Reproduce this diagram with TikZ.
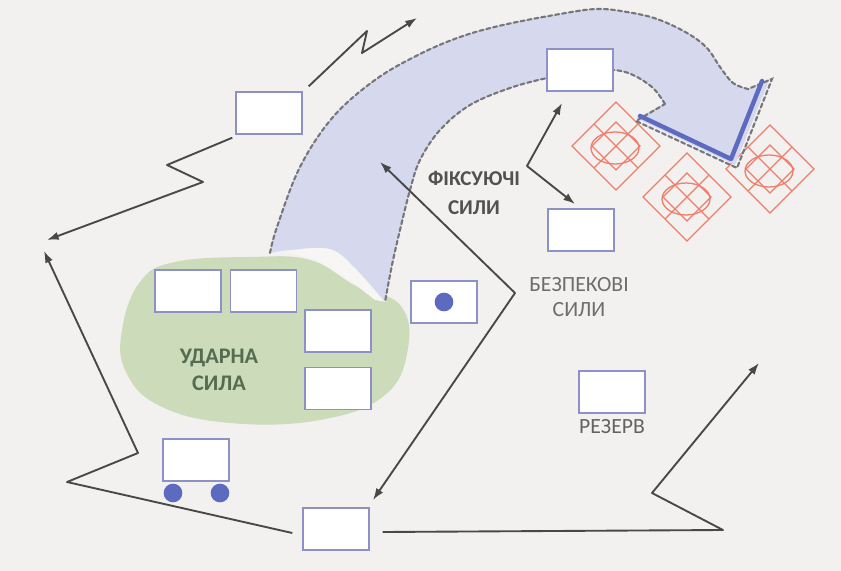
\documentclass[tikz,border=0pt]{standalone}
\usepackage{fontspec}
\setmainfont{Carlito}
\usepackage{xcolor}
\usepackage{tikz}
\usetikzlibrary{arrows.meta, positioning}
\definecolor{Paper}{RGB}{243, 241, 239}
\definecolor{Frame}{RGB}{140, 146, 200}
\definecolor{Sage}{RGB}{204, 219, 186}
\definecolor{Lilac}{RGB}{214, 217, 237}
\definecolor{Dash}{RGB}{118, 118, 124}
\definecolor{Royal}{RGB}{92, 106, 192}
\definecolor{Foe}{RGB}{238, 126, 106}
\definecolor{Ink}{RGB}{72, 72, 72}
\definecolor{Moss}{RGB}{84, 108, 80}

\begin{document}
\begin{tikzpicture}[
    x=0.03cm, y=-0.03cm,
    unit/.style={draw=Frame, fill=white, line width=1.2pt, inner sep=0pt,
                 minimum width=1.98cm, minimum height=1.26cm},
    move/.style={-{Latex[length=10pt, width=7pt]}, line width=1.6pt, Ink,
                 line join=round},
    edge/.style={Dash, line width=1.8pt, dash pattern=on 3.5pt off 2.5pt,
                 line cap=round},
    wheel/.style={circle, fill=Royal, inner sep=0pt, minimum size=0.56cm},
    foe/.style={Foe, line width=1.1pt},
    lbl/.style={font=\fontsize{18.5}{21}\selectfont, align=center, Ink}
    ]
    % paper
    \fill[Paper] (0,0) rectangle (841,571);

    % strike force area
    \fill[Sage] plot[smooth cycle, tension=0.7] coordinates {
      (122,330) (140,282) (175,262) (250,257) (310,260) (356,286)
      (400,305) (408,348) (385,395) (320,420) (230,423) (160,406) (126,372)};
    \fill[white!35!Paper] plot[smooth, tension=0.6] coordinates {
      (285,252) (330,247) (362,272) (386,302)}
      -- (375,300) -- (352,282) -- (315,259) -- cycle;

    % enemy positions
    \foreach \cx/\cy in {616/146, 687/197, 770/169} {
      \draw[foe] (\cx-44,\cy) -- (\cx,\cy-44) -- (\cx+44,\cy) -- (\cx,\cy+44) -- cycle;
      \draw[foe] (\cx-24,\cy) -- (\cx,\cy-24) -- (\cx+24,\cy) -- (\cx,\cy+24) -- cycle;
      \draw[foe] (\cx-22,\cy-22) -- (\cx+22,\cy+22);
      \draw[foe] (\cx+22,\cy-22) -- (\cx-22,\cy+22);
      \draw[foe] (\cx-1,\cy+2) ellipse (24 and 16);
    }

    % main attack arrow
    \fill[Lilac]
      plot[smooth, tension=0.6] coordinates {
        (270,253) (277,227) (300,167) (333,117) (375,80) (418,55) (460,37)
        (503,25) (560,14) (597,9) (627,12) (657,19) (687,33) (707,48)
        (720,67) (733,83) (748,89)}
      -- (770,78) -- (735,165) -- (636,118) -- (665,104)
      -- plot[smooth, tension=0.6] coordinates {
        (665,104) (653,88) (633,75) (613,70) (580,72) (547,78) (510,88)
        (470,105) (440,130) (420,160) (410,190) (400,230) (392,265) (385,302)}
      -- plot[smooth, tension=0.6] coordinates {
        (385,302) (355,268) (330,249) (290,250) (270,253)}
      -- cycle;
    \draw[edge] plot[smooth, tension=0.6] coordinates {
        (270,253) (277,227) (300,167) (333,117) (375,80) (418,55) (460,37)
        (503,25) (560,14) (597,9) (627,12) (657,19) (687,33) (707,48)
        (720,67) (733,83) (748,89)}
      -- (772,79) -- (737,168) -- (636,121) -- (665,104)
      plot[smooth, tension=0.6] coordinates {
        (665,104) (653,88) (633,75) (613,70) (580,72) (547,78) (510,88)
        (470,105) (440,130) (420,160) (410,190) (400,230) (392,265) (385,302)};
    \draw[Royal, line width=3.8pt, line cap=round, line join=round]
      (640,116) -- (731,159) -- (762,81);

    % units
    \node[unit] (fwd)    at (269,113) {};
    \node[unit] (fixTop) at (580,70)  {};
    \node[unit] (fixLow) at (581,230) {};
    \node[unit] (strA)   at (188,291) {};
    \node[unit, right=0.24cm of strA] (strB) {};
    \node[unit] (strC)   at (338,331) {};
    \node[unit, below=0.42cm of strC] (strD) {};
    \node[unit] (sec)    at (444,302) {};
    \node[unit] (sup)    at (196,460) {};
    \node[unit] (hq)     at (336,529) {};
    \node[unit] (res)    at (612,392) {};

    \node[wheel] (secDot) at (sec.center) {};
    \node[wheel] (wl) at (173,493) {};
    \node[wheel] (wr) at (220,493) {};

    % labels
    \node[lbl, Moss, font=\fontsize{19}{23}\selectfont\bfseries] (strike)
      at (219,370) {УДАРНА\\СИЛА};
    \node[lbl, Ink!95, font=\fontsize{18}{24}\selectfont\bfseries] (fixing)
      at (474,193) {ФІКСУЮЧІ\\СИЛИ};
    \node[lbl, Ink!80] (security) at (579,297) {БЕЗПЕКОВІ\\СИЛИ};
    \node[lbl, Ink!85, below=0.18cm of res, inner sep=0pt] (reserve) {РЕЗЕРВ};

    % manoeuvre arrows
    \coordinate (tipN)  at (417,18);
    \coordinate (tipW)  at (47,240);
    \coordinate (tipWW) at (44,251);
    \coordinate (tipE)  at (759,363);
    \coordinate (tipSa) at (380,162);
    \coordinate (tipSb) at (373,500);
    \coordinate (tipFa) at (562,103);
    \coordinate (tipFb) at (575,204);

    \draw[move] ([shift={(6,-5)}]fwd.north east) -- (367,31) -- (362,53) -- (tipN);
    \draw[move] ([shift={(-3,3)}]fwd.south west) -- (167,165) -- (203,182) -- (tipW);
    \draw[move] ([shift={(-10,4)}]hq.west) -- (67,482) -- (138,453) -- (tipWW);
    \draw[move] ([shift={(13,3)}]hq.east) -- (723,530) -- (652,493) -- (tipE);
    \draw[move, {Latex[length=10pt, width=7pt]}-{Latex[length=10pt, width=7pt]}]
      (tipSa) -- (515,293) -- (tipSb);
    \draw[move, {Latex[length=10pt, width=7pt]}-{Latex[length=10pt, width=7pt]}]
      (tipFa) -- (527,166) -- (tipFb);
  \end{tikzpicture}
\end{document}
